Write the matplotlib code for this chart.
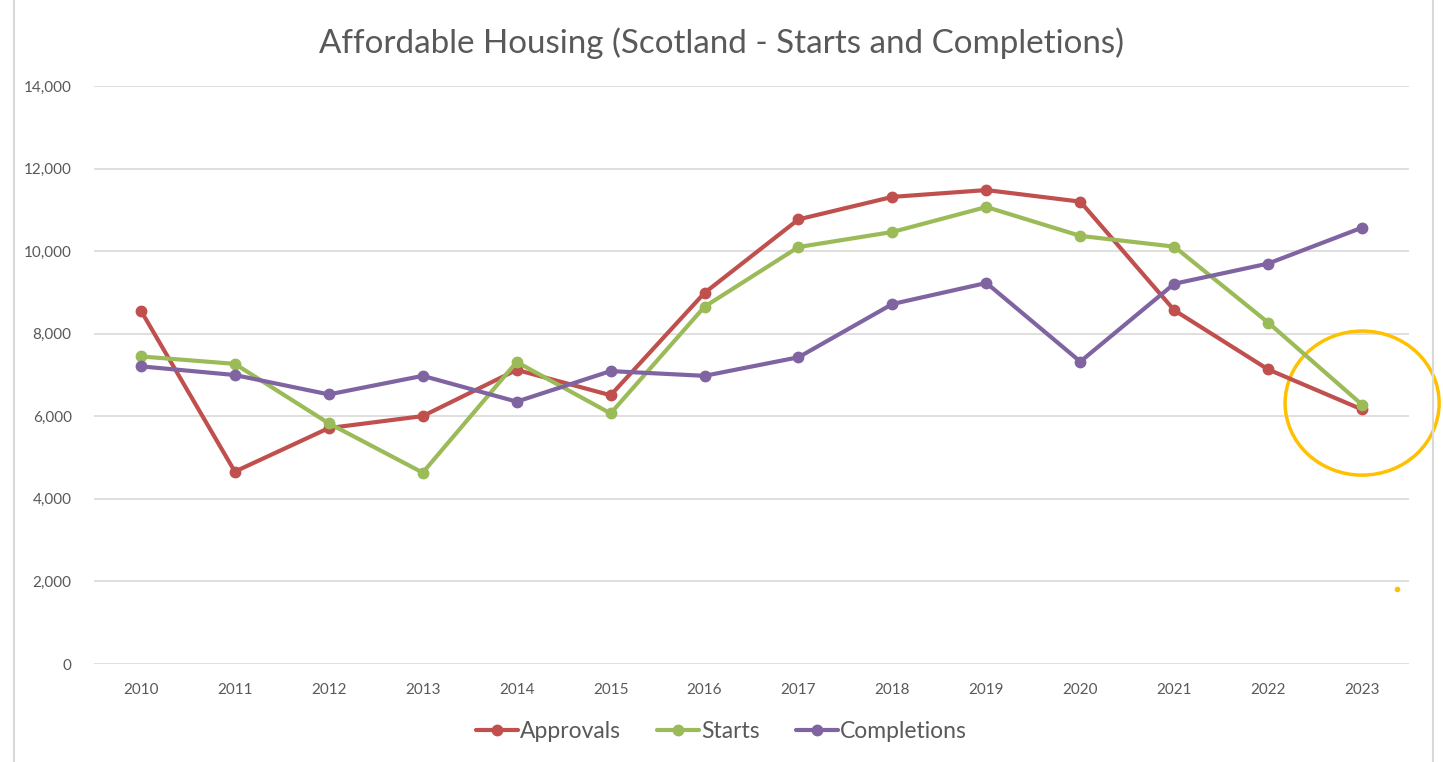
import matplotlib
matplotlib.use("Agg")
import matplotlib.pyplot as plt
from matplotlib.patches import Ellipse
from matplotlib.lines import Line2D
from matplotlib.ticker import FuncFormatter

years = ["2010", "2011", "2012", "2013", "2014", "2015", "2016",
         "2017", "2018", "2019", "2020", "2021", "2022", "2023"]
approvals = [8560, 4660, 5715, 6005, 7125, 6510, 8990,
             10770, 11315, 11480, 11200, 8570, 7135, 6165]
starts = [7450, 7270, 5830, 4635, 7315, 6070, 8655,
          10100, 10465, 11070, 10370, 10110, 8270, 6280]
completions = [7210, 7000, 6530, 6980, 6355, 7095, 6980,
               7430, 8720, 9230, 7325, 9210, 9700, 10570]

series = [("Approvals", approvals, "#C0504D"),
          ("Starts", starts, "#9BBB59"),
          ("Completions", completions, "#8064A2")]

plt.rcParams["font.family"] = ["Lato", "DejaVu Sans"]
text_col = "#595959"

fig = plt.figure(figsize=(14.43, 7.62), dpi=100)
ax = fig.add_axes([0.0651, 0.1286, 0.9114, 0.7585])

x = range(len(years))
for name, vals, col in series:
    ax.plot(x, vals, color=col, linewidth=3, marker="o", markersize=7.5,
            label=name, solid_capstyle="round")

ax.set_xlim(-0.5, len(years) - 0.5)
ax.set_ylim(0, 14000)
ax.set_yticks(range(0, 14001, 2000))
ax.yaxis.set_major_formatter(FuncFormatter(lambda v, p: f"{int(v):,}"))
ax.set_xticks(list(x))
ax.set_xticklabels(years)
ax.tick_params(axis="both", length=0, labelsize=11, colors=text_col)
ax.tick_params(axis="y", pad=16)
ax.tick_params(axis="x", pad=14)
ax.grid(axis="y", color="#D9D9D9", linewidth=1.2)
ax.set_axisbelow(True)
for s in ax.spines.values():
    s.set_visible(False)

# hand-drawn highlight around the 2023 values
ax.add_patch(Ellipse((13, 6320), 1.64, 3490, fill=False,
                     edgecolor="#FFC000", linewidth=2.5, clip_on=False))
ax.plot([13.37], [1820], marker="o", color="#FFC000", markersize=3,
        clip_on=False)

fig.text(0.5, 0.943, "Affordable Housing (Scotland - Starts and Completions)",
         ha="center", va="center", fontsize=23.9, color=text_col)

ax.legend(loc="center", bbox_to_anchor=(0.5, 0.04), bbox_transform=fig.transFigure,
          frameon=False, ncol=3, fontsize=16.5, labelcolor=text_col,
          handlelength=1.8, handletextpad=0.1, columnspacing=1.6)

# chart frame edges
fig.add_artist(Line2D([0.0097, 0.0097], [0, 1], color="#D9D9D9", linewidth=1.5))
fig.add_artist(Line2D([0.993, 0.993], [0, 1], color="#D9D9D9", linewidth=1.5))

fig.savefig("out.png", dpi=100)
